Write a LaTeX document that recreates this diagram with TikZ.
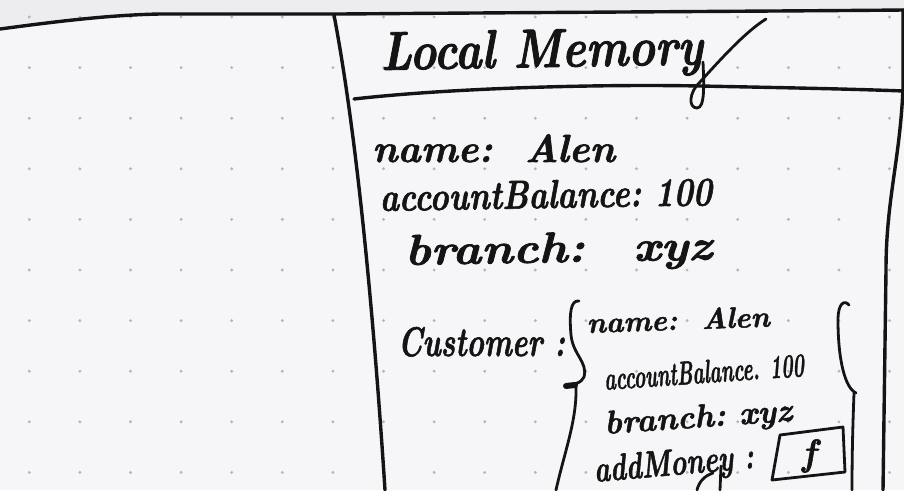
\documentclass[tikz,border=0pt]{standalone}
\usepackage{graphicx}
\usepackage{fontspec}
\newfontface\handfont{lmroman10-bolditalic}[Extension=.otf, FakeBold=1.6]
\newcommand{\hwtext}[3]{\resizebox{#1pt}{#2}{\handfont #3}}
\definecolor{paper}{HTML}{F6F6F8}
\definecolor{topband}{HTML}{EDEDEF}
\definecolor{dotc}{HTML}{B6B6BA}
\definecolor{ink}{HTML}{141414}
\tikzset{
  pen/.style={draw=ink, line width=3.4pt, line cap=round, line join=round},
  thinpen/.style={draw=ink, line width=2.8pt, line cap=round, line join=round},
  txt/.style={anchor=base west, inner sep=0pt, outer sep=0pt, text=ink},
}
\begin{document}
\begin{tikzpicture}[x=1pt,y=-1pt]
\useasboundingbox (0,0) rectangle (904,490);
% paper
\fill[paper] (0,0) rectangle (904,490);
\fill[topband] (0,0) -- (0,29) .. controls (60,21) and (110,15) .. (160,14) -- (340,14) .. controls (600,12) and (800,11) .. (904,10) -- (904,0) -- cycle;
% dot grid
\foreach \i in {0,...,17} {
  \foreach \j in {0,...,9} {
    \fill[dotc] ({29.3+50.6*\i},{17+50.6*\j}) circle (1.6);
  }
}
% frame lines
\draw[pen] (0,29) .. controls (60,21) and (110,15) .. (160,14) -- (340,14) .. controls (600,12) and (800,11) .. (904,10);
\draw[pen] (334,15) .. controls (352,110) and (370,260) .. (385,490);
\draw[pen] (354,99) .. controls (450,88) and (600,84) .. (700,86) .. controls (800,88) and (850,89) .. (904,91);
\draw[pen] (903,10) -- (903,88) .. controls (900,160) and (886,200) .. (886,270) -- (883,490);
% title
\node[txt, rotate=1] (title) at (381,70) {\hwtext{322}{38pt}{Local Memory}};
\draw[thinpen] (703,62) .. controls (704,85) and (705,108) .. (697,108) .. controls (688,108) and (689,92) .. (700,82) .. controls (720,60) and (745,32) .. (766,19);
% outer fields
\node[txt] (oname) at (372,162) {\hwtext{243}{!}{name:\ \ Alen}};
\node[txt, rotate=1] (obal) at (380,211) {\hwtext{332}{28pt}{accountBalance:\ 100}};
\node[txt, rotate=1] (obranch) at (405,265) {\hwtext{307}{30pt}{branch:\quad xyz}};
\node[txt] (cust) at (398,356) {\hwtext{167}{29pt}{Customer :}};
% left brace
\draw[thinpen] (579,301) .. controls (571,300) and (569,312) .. (571,335) .. controls (573,355) and (588,362) .. (584,377) .. controls (582,383) and (572,385) .. (566,386);
\draw[ink, line width=6pt, line cap=round] (566,386) -- (575,385);
\draw[thinpen] (576,386) .. controls (577,420) and (565,450) .. (556,490);
% inner fields
\node[txt, rotate=2] (iname) at (587,333) {\hwtext{183}{!}{name:\ \ Alen}};
\node[txt, rotate=4] (ibal) at (605,390) {\hwtext{200}{23pt}{accountBalance. 100}};
\node[txt, rotate=4] (ibranch) at (605,434) {\hwtext{188}{!}{branch:\ xyz}};
\node[txt, rotate=5] (iadd) at (595,482) {\hwtext{160}{26pt}{addMoney\ :}};
\draw[thinpen] (721,466) -- (720,490);
\draw[thinpen] (713,473) .. controls (704,476) and (699,482) .. (697,490);
% function box
\draw[thinpen] (780,435) -- (843,427) -- (845,472) -- (772,480) -- cycle;
\node[inner sep=0pt, text=ink] (fsym) at (809,456) {\resizebox{14pt}{26pt}{\handfont f}};
% right bracket
\draw[thinpen] (849,305) .. controls (845,300) and (838,302) .. (838,320) .. controls (838,360) and (845,388) .. (856,393);
\draw[thinpen] (854,393) .. controls (853,420) and (852,450) .. (852,490);
\end{tikzpicture}
\end{document}
